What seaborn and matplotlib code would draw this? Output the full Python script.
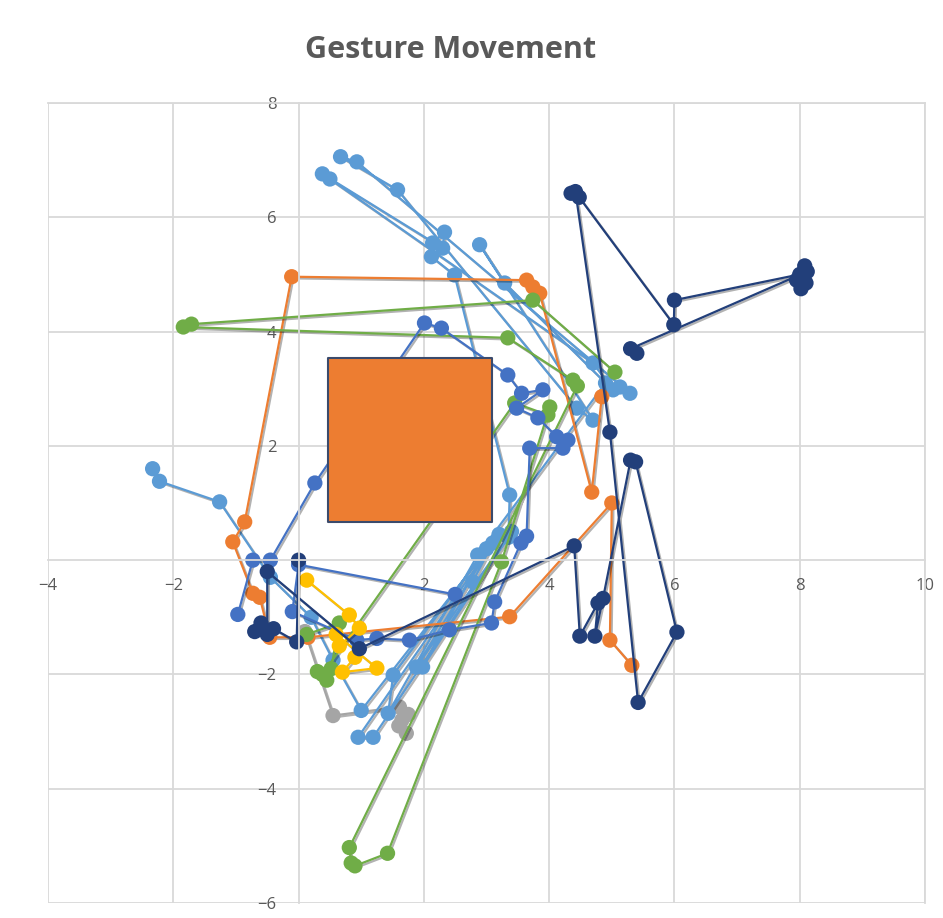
import pandas as pd
import numpy as np
import seaborn as sns
import matplotlib.pyplot as plt
import matplotlib.patheffects as pe

# gesture traces, one continuous path per series (x, y in screen units)
navy_x = [0.0, -0.03, -0.4, -0.6, -0.7, -0.5, -0.5, 0.97, 4.4, 4.49, 4.78, 4.73, 4.86, 5.3, 5.38,
          6.04, 5.42, 4.97, 4.42, 4.35, 4.48, 5.99, 6.0, 8.0, 8.08, 7.95, 8.1, 8.02, 8.12, 5.3, 5.4]
navy_y = [0.0, -1.43, -1.2, -1.1, -1.25, -1.3, -0.2, -1.55, 0.25, -1.33, -0.75, -1.33, -0.67, 1.75, 1.72,
          -1.26, -2.49, 2.24, 6.45, 6.42, 6.35, 4.12, 4.55, 5.0, 5.15, 4.9, 4.85, 4.75, 5.05, 3.7, 3.62]

mid_x = [-0.97, -0.73, -0.45, 0.26, 2.01, 2.28, 3.34, 3.56, 3.9, 3.48, 3.82, 4.12, 4.3, 4.22, 3.69,
         3.64, 3.55, 3.13, 3.08, 2.41, 1.77, 1.25, 0.93, -0.1, 0.0, 2.5]
mid_y = [-0.95, 0.0, 0.0, 1.35, 4.15, 4.06, 3.24, 2.92, 2.98, 2.66, 2.49, 2.16, 2.1, 1.96, 1.96,
         0.42, 0.3, -0.73, -1.1, -1.22, -1.4, -1.37, -1.4, -0.9, -0.08, -0.6]

light_x = [-2.33, -2.22, -1.26, -0.45, 0.2, 0.55, 1.0, 3.2, 0.95, 1.19, 3.35, 3.37, 2.49, 2.12, 2.14,
           2.33, 2.3, 0.38, 0.5, 4.7, 5.02, 5.13, 5.29, 0.93, 0.67, 1.58, 4.44, 4.7, 2.89, 3.29,
           4.9, 2.86, 1.43, 1.51, 3.0, 1.98, 3.4, 1.88, 3.1, 2.78]
light_y = [1.6, 1.38, 1.02, -0.3, -1.0, -1.75, -2.63, 0.45, -3.1, -3.1, 0.4, 1.14, 4.99, 5.31, 5.55,
           5.74, 5.46, 6.76, 6.67, 3.45, 2.98, 3.03, 2.92, 6.97, 7.06, 6.48, 2.66, 2.45, 5.52, 4.85,
           3.1, 0.09, -2.68, -2.01, 0.2, -1.87, 0.5, -1.87, 0.3, -0.38]

orange_x = [5.32, 4.97, 5.0, 3.37, 0.15, -0.46, -0.62, -0.73, -1.05, -0.86, -0.11, 3.64, 3.74, 3.85, 4.68, 4.84]
orange_y = [-1.84, -1.4, 1.0, -0.99, -1.35, -1.35, -0.65, -0.58, 0.32, 0.67, 4.96, 4.9, 4.78, 4.67, 1.19, 2.86]

green_x = [5.05, 3.74, -1.71, -1.84, 3.34, 4.38, 4.45, 0.81, 0.84, 0.9, 1.42, 3.24, 4.01, 3.98, 3.45,
           0.38, 0.3, 0.45, 0.52, 0.65, 0.13]
green_y = [3.29, 4.55, 4.13, 4.08, 3.89, 3.15, 3.05, -5.03, -5.3, -5.35, -5.13, -0.03, 2.68, 2.54, 2.75,
           -2.0, -1.95, -2.1, -1.9, -1.1, -1.3]

yellow_x = [0.13, 0.81, 0.97, 0.65, 0.6, 1.25, 0.7, 0.9]
yellow_y = [-0.35, -0.96, -1.19, -1.5, -1.3, -1.89, -1.96, -1.7]

gray_x = [0.1, 0.55, 1.61, 1.72, 1.65, 1.75, 1.6]
gray_y = [-1.25, -2.72, -2.57, -3.03, -2.8, -2.7, -2.9]

# target box
target_x = [1.78]
target_y = [2.11]

x_ticks = [-4, -2, 2, 4, 6, 8, 10]
y_ticks = [-6, -4, -2, 2, 4, 6, 8]

series = [
    ("gray", gray_x, gray_y, "#A5A5A5"),
    ("light", light_x, light_y, "#5B9BD5"),
    ("orange", orange_x, orange_y, "#ED7D31"),
    ("green", green_x, green_y, "#70AD47"),
    ("mid", mid_x, mid_y, "#4472C4"),
    ("yellow", yellow_x, yellow_y, "#FFC000"),
    ("navy", navy_x, navy_y, "#223F7A"),
]
df = pd.concat([pd.DataFrame({"x": xs, "y": ys, "series": name}) for name, xs, ys, _ in series],
               ignore_index=True)
palette = {name: c for name, _, _, c in series}

sns.set_style("white")
plt.rcParams['font.family'] = ['Open Sans', 'DejaVu Sans']

fig = plt.figure(figsize=(9.43, 9.18), dpi=100, facecolor='white')
ax = fig.add_axes([48 / 943, 1 - 903 / 918, 877 / 943, 800 / 918])

sns.lineplot(data=df, x="x", y="y", hue="series", hue_order=[s[0] for s in series],
             palette=palette, sort=False, estimator=None, marker="o", markersize=11,
             markeredgewidth=0, linewidth=1.6, legend=False, ax=ax)
for line in ax.lines:
    line.set_path_effects([pe.SimpleLineShadow(offset=(1.2, -1.2), alpha=0.3), pe.Normal()])

ax.scatter(target_x, target_y, marker="s", s=13780, c="#ED7D31",
           edgecolors="#3B4A6B", linewidths=1.5, zorder=5)

ax.set_xlim(-4, 10)
ax.set_ylim(-6, 8)
ax.set_xticks(x_ticks)
ax.set_yticks(y_ticks)
ax.grid(True, color="#D9D9D9", linewidth=1.3)
ax.set_axisbelow(True)
ax.spines['left'].set_position(('data', 0))
ax.spines['bottom'].set_position(('data', 0))
for s in ax.spines.values():
    s.set_color("#D9D9D9")
    s.set_linewidth(1.3)
ax.tick_params(length=0, labelsize=12, labelcolor="#595959")
ax.tick_params(axis='y', pad=16)
ax.tick_params(axis='x', pad=13)
ax.set_xlabel("")
ax.set_ylabel("")

fig.text(0.478, 0.945, "Gesture Movement", ha="center", va="center",
         fontsize=22, fontweight="bold", color="#595959")

plt.savefig("out.png", dpi=100, facecolor='white')
